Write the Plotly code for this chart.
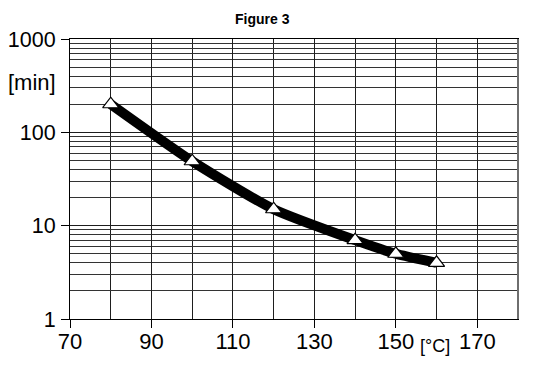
import plotly.graph_objects as go

# Data
temperature_c = [80, 100, 120, 140, 150, 160]
time_min = [200, 49, 15, 7, 5, 4]

x_tick_vals = [70, 90, 110, 130, 150, 170]
x_tick_text = ["70", "90", "110", "130", "150", "170"]
y_tick_vals = [1, 10, 100, 1000]
y_tick_text = ["1", "10", "100", "1000"]
y_minor_vals = [m * d for d in (1, 10, 100) for m in range(2, 10)]

FONT = "Liberation Sans, Arial, sans-serif"
GRID = "#1e1e1e"

fig = go.Figure()
fig.add_trace(go.Scatter(
    x=temperature_c, y=time_min, mode="lines",
    line=dict(color="black", width=10, shape="spline", smoothing=0.6),
    hoverinfo="skip", showlegend=False,
))
fig.add_trace(go.Scatter(
    x=temperature_c, y=time_min, mode="markers",
    marker=dict(symbol="triangle-up", size=14, color="white",
                line=dict(color="black", width=1.2)),
    showlegend=False,
))

fig.update_layout(
    width=527, height=358,
    margin=dict(l=62, r=17, t=31, b=47),
    paper_bgcolor="white", plot_bgcolor="white",
    font=dict(family=FONT, size=22, color="black"),
    xaxis=dict(
        range=[70, 180], tickmode="array", tickvals=x_tick_vals, ticktext=x_tick_text,
        ticks="outside", ticklen=8, tickcolor="black", tickwidth=1,
        ticklabelstandoff=-5,
        showgrid=True, gridcolor=GRID, gridwidth=1,
        minor=dict(dtick=10, tick0=70, showgrid=True, gridcolor=GRID, gridwidth=1, ticks=""),
        showline=True, linecolor="black", linewidth=1, mirror=True,
        zeroline=False, tickfont=dict(size=22), automargin=False,
    ),
    yaxis=dict(
        type="log", range=[0, 3], tickmode="array", tickvals=y_tick_vals, ticktext=y_tick_text,
        ticks="outside", ticklen=8, tickcolor="black", tickwidth=1,
        ticklabelstandoff=1,
        showgrid=True, gridcolor=GRID, gridwidth=1,
        minor=dict(tickvals=y_minor_vals, showgrid=True, gridcolor="#333333", gridwidth=1, ticks=""),
        showline=True, linecolor="black", linewidth=1, mirror=True,
        zeroline=False, tickfont=dict(size=21.5), automargin=False,
    ),
    annotations=[
        dict(text="<b>Figure 3</b>", xref="paper", yref="paper", x=0.4286, y=1.0714,
             xanchor="center", yanchor="middle", showarrow=False,
             font=dict(family=FONT, size=14, color="black")),
        dict(text="[min]", xref="paper", yref="paper", x=-0.0859, y=0.846,
             xanchor="center", yanchor="middle", showarrow=False,
             font=dict(family=FONT, size=22, color="black")),
        dict(text="[°C]", xref="paper", yref="paper", x=0.8147, y=-0.0964,
             xanchor="center", yanchor="middle", showarrow=False,
             font=dict(family=FONT, size=18, color="black")),
    ],
    shapes=[
        dict(type="line", xref="paper", yref="paper", x0=1, x1=1, y0=0, y1=1,
             line=dict(color="#6e6e6e", width=2)),
    ],
)

fig.write_html("out.html")
